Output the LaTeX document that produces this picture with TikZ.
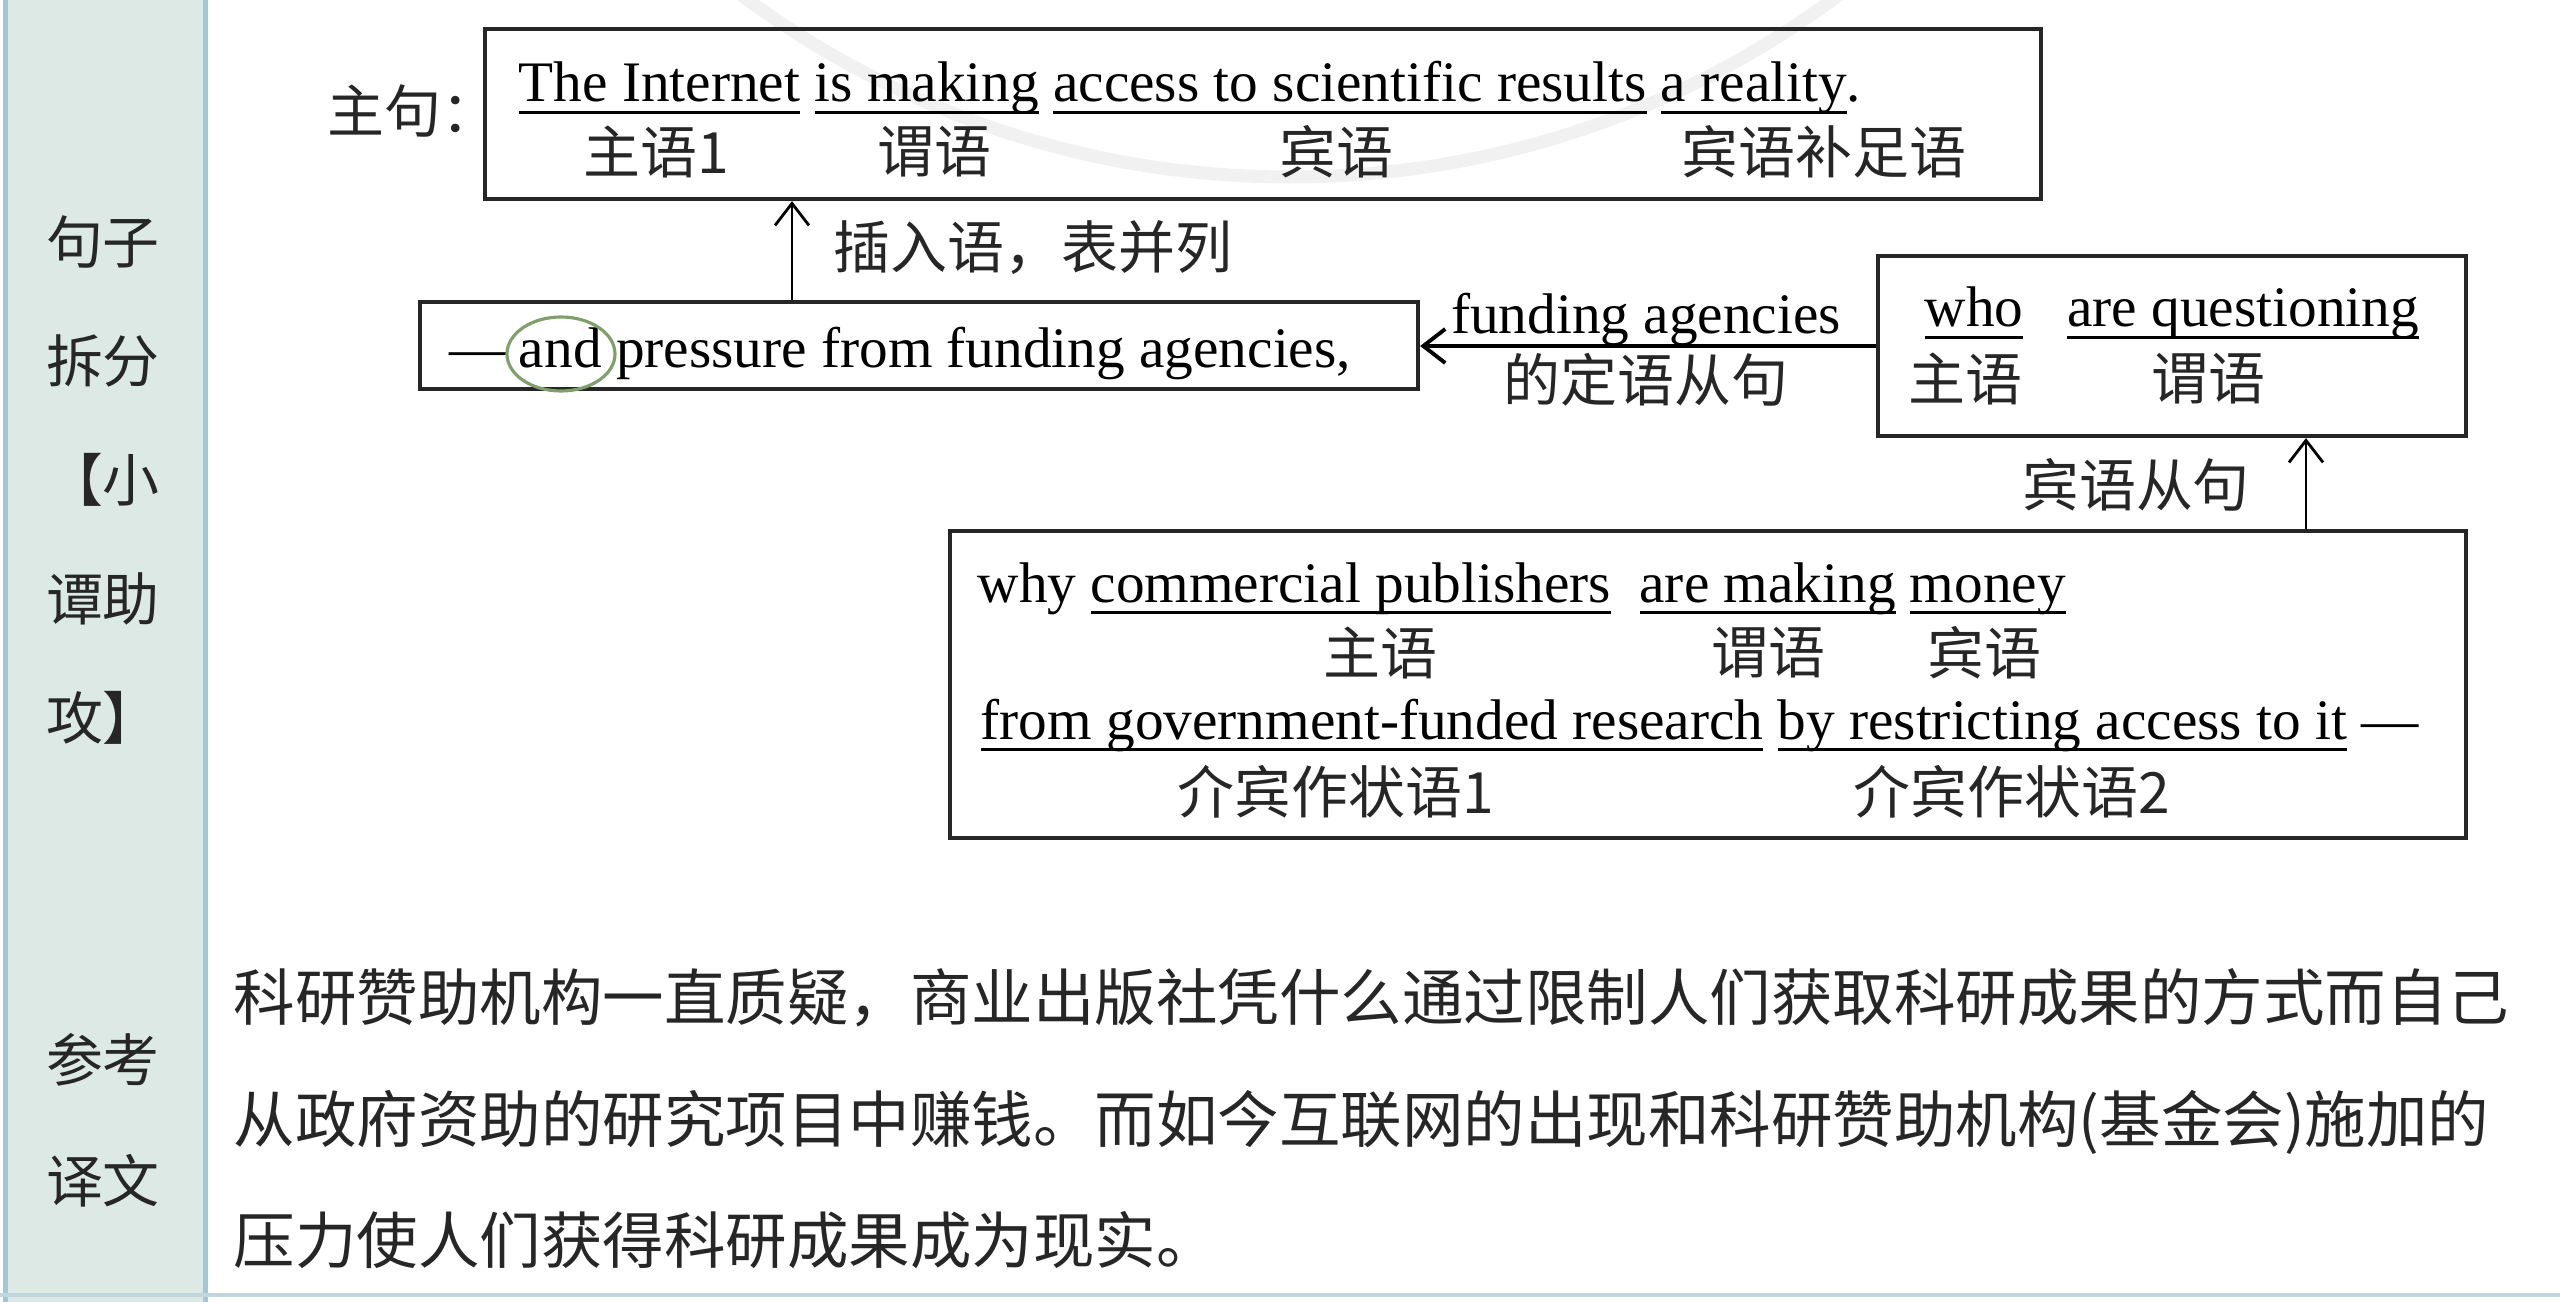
\documentclass[tikz,border=0pt]{standalone}
\usepackage{fontspec}
\setmainfont{Liberation Serif}
\newfontfamily\cjk{Noto Sans CJK SC}
\usetikzlibrary{arrows.meta,calc}

\definecolor{panelfill}{HTML}{DCE9E5}
\definecolor{panelline}{HTML}{A6C6D2}
\definecolor{ringgray}{HTML}{F1F1F1}
\definecolor{andgreen}{HTML}{7FA06A}

% underline at a fixed depth under the baseline
\newsavebox\undlbox
\newcommand\undl[1]{\sbox\undlbox{#1}\rlap{\rule[-3.4pt]{\wd\undlbox}{0.9pt}}\usebox\undlbox}

\tikzset{
  ensent/.style={anchor=base west, inner sep=0pt, font=\fontsize{16.3}{19}\selectfont},
  zhlabel/.style={inner sep=0pt, text=black!85, font=\cjk\fontsize{16.2}{19}\selectfont},
  sentbox/.style={draw=black!85, line width=1.2pt, inner sep=0pt},
  relarrow/.style={-{Straight Barb[length=2.2mm,width=3.4mm]}, line width=0.8pt},
}

\begin{document}
\begin{tikzpicture}

    \useasboundingbox (0,0) rectangle (25.6,-13.02);

    % Side panel and bottom rule
    \fill[panelfill] (0.04,0) rectangle (2.07,-13.02);
    \draw[panelline, line width=1.5pt] (0.055,0) -- (0.055,-13.02);
    \draw[panelline, line width=1.5pt] (2.055,0) -- (2.055,-13.02);
    \draw[panelline!70, line width=1.4pt] (0,-12.95) -- (25.6,-12.95);

    % Faint watermark ring at the top
    \begin{scope}
        \clip (0,0) rectangle (25.6,-13.02);
        \draw[ringgray, line width=0.13cm] (12.9,7.41) circle (9.18);
    \end{scope}

    % Panel titles
    \node[zhlabel, align=center, font=\cjk\fontsize{16.2}{33.8}\selectfont] (splittitle) at (1.03,-4.80) {句子\\拆分\\【小\\谭助\\攻】};
    \node[zhlabel, align=center, font=\cjk\fontsize{16.2}{34.5}\selectfont] (transtitle) at (1.03,-11.20) {参考\\译文};

    % Boxes
    \node[sentbox, minimum width=15.56cm, minimum height=1.70cm] (mainbox) at (12.63,-1.14) {};
    \node[sentbox, minimum width=9.98cm, minimum height=0.87cm] (andbox) at (9.19,-3.455) {};
    \node[sentbox, minimum width=5.88cm, minimum height=1.80cm] (whobox) at (21.72,-3.46) {};
    \node[sentbox, minimum width=15.16cm, minimum height=3.07cm] (whybox) at (17.08,-6.845) {};

    % Main clause
    \node[zhlabel, anchor=west] (maintag) at (3.27,-1.11) {主句：};
    \node[ensent] (mainsent) at (5.18,-1.02) {\undl{The Internet} \undl{is making} \undl{access to scientific results} \undl{a reality}.};
    \node[zhlabel] (subj1) at (6.56,-1.52) {主语1};
    \node[zhlabel] (pred1) at (9.34,-1.52) {谓语};
    \node[zhlabel] (obj1) at (13.36,-1.52) {宾语};
    \node[zhlabel] (comp1) at (18.24,-1.52) {宾语补足语};

    % Inserted phrase
    \node[ensent] (andsent) at (4.49,-3.67) {—\hspace{0.12cm}and pressure from funding agencies,};
    \draw[andgreen, line width=0.9pt] (5.61,-3.54) ellipse (0.54 and 0.37);

    % Attributive clause
    \node[ensent] (whosent) at (19.24,-3.27) {\undl{who}\hspace{0.44cm}\undl{are questioning}};
    \node[zhlabel] (subj2) at (19.65,-3.79) {主语};
    \node[zhlabel] (pred2) at (22.08,-3.79) {谓语};

    % Object clause
    \node[ensent] (whysent) at (9.77,-6.02) {why \undl{commercial publishers}\ \ \undl{are making} \undl{money}};
    \node[zhlabel] (subj3) at (13.80,-6.53) {主语};
    \node[zhlabel] (pred3) at (17.68,-6.53) {谓语};
    \node[zhlabel] (obj3) at (19.84,-6.53) {宾语};
    \node[ensent] (fromsent) at (9.80,-7.39) {\undl{from government-funded research} \undl{by restricting access to it} —};
    \node[zhlabel] (advl1) at (13.36,-7.92) {介宾作状语1};
    \node[zhlabel] (advl2) at (20.12,-7.92) {介宾作状语2};

    % Links between the parts
    \coordinate (insx) at (7.92,0);
    \coordinate (objx) at (23.06,0);
    \draw[relarrow] (insx |- andbox.north) -- (insx |- mainbox.south);
    \draw[relarrow, line width=1.1pt] (whobox.west) -- (whobox.west -| andbox.east);
    \draw[relarrow] (objx |- whybox.north) -- (objx |- whobox.south);

    % Link labels
    \node[zhlabel, anchor=west] (inslabel) at (8.33,-2.48) {插入语，表并列};
    \node[ensent, anchor=base] (attrlabel) at (16.46,-3.34) {funding agencies};
    \node[zhlabel] (attrnote) at (16.46,-3.80) {的定语从句};
    \node[zhlabel] (objlabel) at (21.36,-4.85) {宾语从句};

    % Reference translation
    \node[zhlabel, anchor=west, align=left, font=\cjk\fontsize{17.5}{34.6}\selectfont] (transtext) at (2.33,-11.19) {科研赞助机构一直质疑，商业出版社凭什么通过限制人们获取科研成果的方式而自己\\从政府资助的研究项目中赚钱。而如今互联网的出现和科研赞助机构(基金会)施加的\\压力使人们获得科研成果成为现实。};

\end{tikzpicture}
\end{document}
